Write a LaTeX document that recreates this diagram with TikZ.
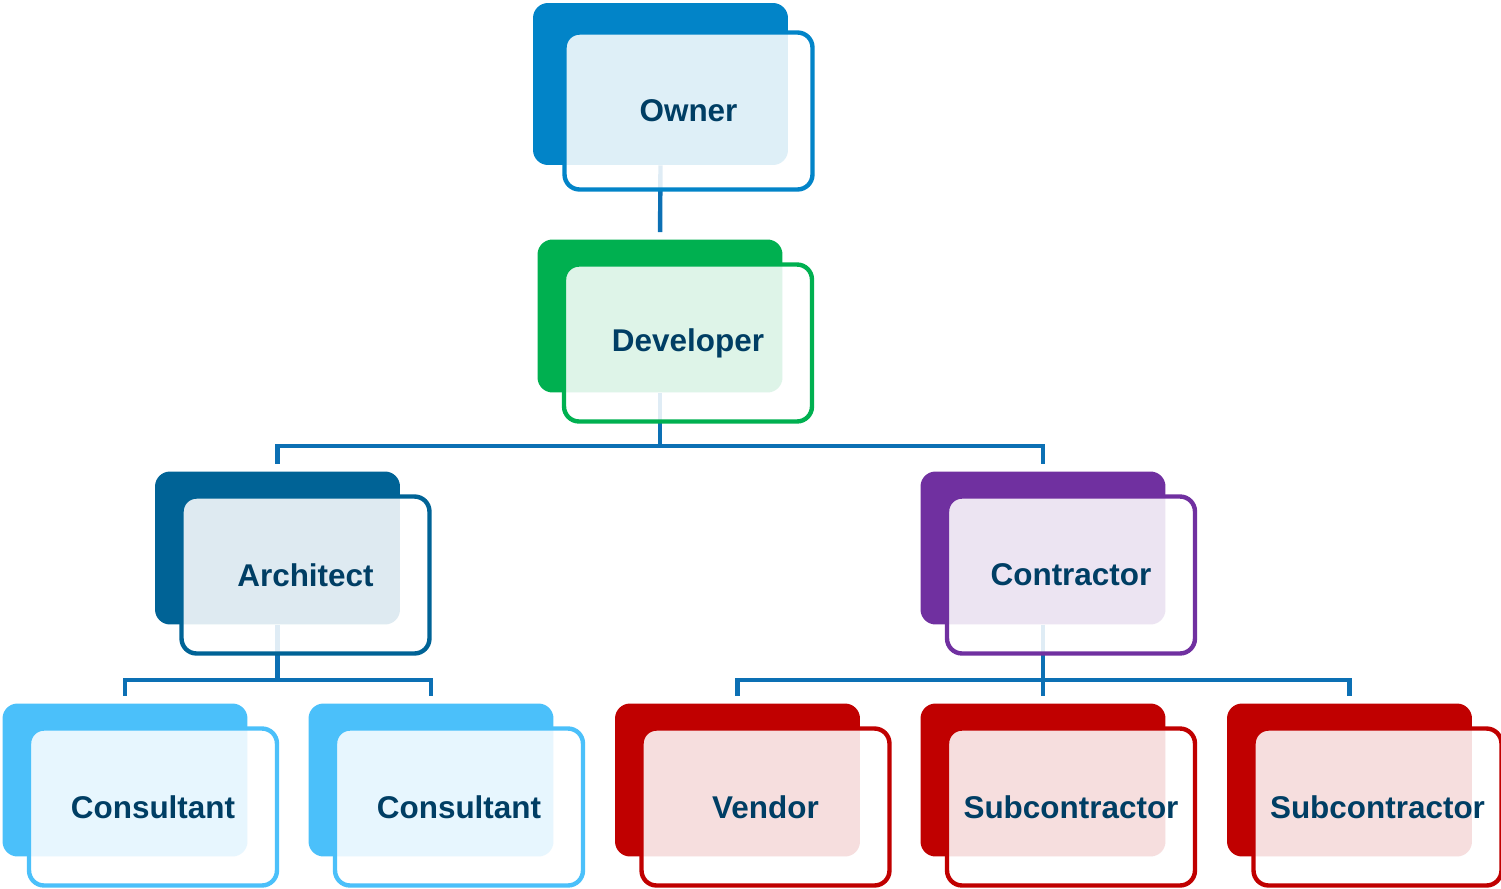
\documentclass[tikz,border=0pt]{standalone}
\usepackage{fontspec}
\setmainfont{Liberation Sans}
\usetikzlibrary{calc,backgrounds}
\definecolor{ownerblue}{RGB}{2,132,200}
\definecolor{devgreen}{RGB}{0,176,80}
\definecolor{archblue}{RGB}{0,99,150}
\definecolor{contrpurple}{RGB}{112,48,160}
\definecolor{consblue}{RGB}{75,192,250}
\definecolor{vendred}{RGB}{192,0,0}
\definecolor{linkblue}{RGB}{12,112,180}
\definecolor{labelnavy}{RGB}{0,62,100}

\begin{document}
\begin{tikzpicture}[x=0.02cm, y=-0.02cm,
  shadowbox/.style={fill=#1, rounded corners=0.3cm, minimum width=4.9cm, minimum height=3.06cm, inner sep=0pt},
  cardbox/.style={draw=#1, line width=2.5pt, fill=white, fill opacity=0.87, text opacity=1,
    rounded corners=0.3cm, minimum width=4.96cm, minimum height=3.14cm, inner sep=0pt,
    text=labelnavy, font=\fontsize{17.9}{21}\selectfont\bfseries},
  link/.style={draw=linkblue, line width=2.5pt, shorten >=0.14cm}]
  \useasboundingbox (0,0) rectangle (1501,889);

  \node[shadowbox=ownerblue, minimum width=5.1cm, minimum height=3.24cm] (owner-b) at (660.5,84) {};
  \node[cardbox=ownerblue] (owner) at ($(owner-b)+(28,27)$) {Owner};

  \node[shadowbox=devgreen] (developer-b) at (660,316) {};
  \node[cardbox=devgreen] (developer) at ($(developer-b)+(28,27)$) {Developer};

  \node[shadowbox=archblue] (architect-b) at (277.5,548) {};
  \node[cardbox=archblue] (architect) at ($(architect-b)+(28,27)$) {Architect};

  \node[shadowbox=contrpurple] (contractor-b) at (1043,548) {};
  \node[cardbox=contrpurple] (contractor) at ($(contractor-b)+(28,27)$) {Contractor};

  \node[shadowbox=consblue] (consultant1-b) at (125,780) {};
  \node[cardbox=consblue] (consultant1) at ($(consultant1-b)+(28,27)$) {Consultant};

  \node[shadowbox=consblue] (consultant2-b) at (431,780) {};
  \node[cardbox=consblue] (consultant2) at ($(consultant2-b)+(28,27)$) {Consultant};

  \node[shadowbox=vendred] (vendor-b) at (737.5,780) {};
  \node[cardbox=vendred] (vendor) at ($(vendor-b)+(28,27)$) {Vendor};

  \node[shadowbox=vendred] (subcontractor1-b) at (1043,780) {};
  \node[cardbox=vendred] (subcontractor1) at ($(subcontractor1-b)+(28,27)$) {Subcontractor};

  \node[shadowbox=vendred] (subcontractor2-b) at (1349.5,780) {};
  \node[cardbox=vendred] (subcontractor2) at ($(subcontractor2-b)+(28,27)$) {Subcontractor};

  \begin{scope}[on background layer]
    \draw[link] (owner-b.south) -- (developer-b.north);
    \draw[link] (developer-b.south) -- ++(0,53) -| (architect-b.north);
    \draw[link] (developer-b.south) -- ++(0,53) -| (contractor-b.north);
    \draw[link] (architect-b.south) -- ++(0,55) -| (consultant1-b.north);
    \draw[link] (architect-b.south) -- ++(0,55) -| (consultant2-b.north);
    \draw[link] (contractor-b.south) -- ++(0,55) -| (vendor-b.north);
    \draw[link] (contractor-b.south) -- (subcontractor1-b.north);
    \draw[link] (contractor-b.south) -- ++(0,55) -| (subcontractor2-b.north);
  \end{scope}
\end{tikzpicture}
\end{document}
